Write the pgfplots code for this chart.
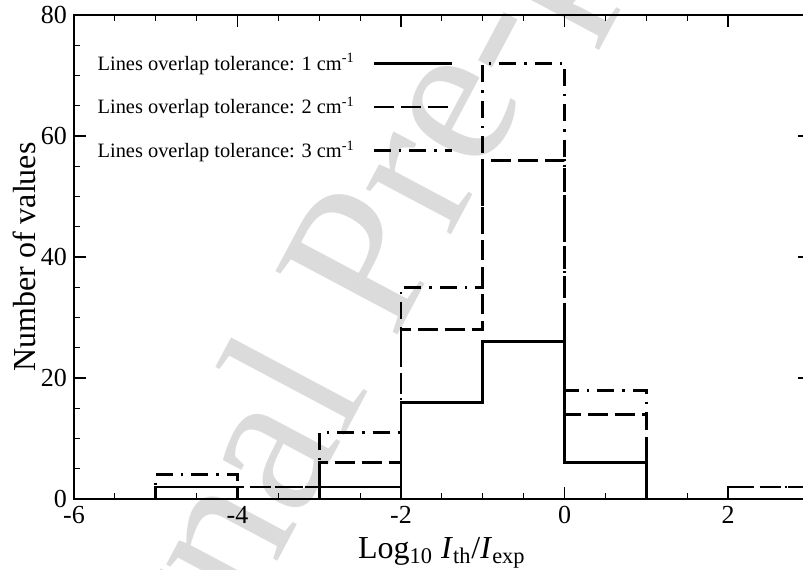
\documentclass[border=0pt]{standalone}
\usepackage{fontspec}
\setmainfont{Liberation Serif}
\usepackage{pgfplots}
\pgfplotsset{compat=1.18}
\begin{document}
\begin{tikzpicture}
\node[rotate=62, anchor=base, text=black!14, font=\fontsize{105}{105}\selectfont] at (176pt,108.5pt) {Journal Pre-proof};
\begin{axis}[
  at={(0pt,0pt)}, anchor=south west,
  scale only axis, width=367.9pt, height=242pt,
  xmin=-6, xmax=3, ymin=0, ymax=80,
  xtick={-6,-4,-2,0,2}, xticklabels={-6,-4,-2,0,2},
  ytick={0,20,40,60,80}, yticklabels={0,20,40,60,80},
  minor x tick num=3, minor y tick num=3,
  major tick length=6pt, minor tick length=3pt,
  tick style={black, line width=0.6pt},
  axis line style={line width=1.2pt},
  tick label style={font=\fontsize{13}{15}\selectfont},
  xlabel={Log\textsubscript{10} \textit{I}\textsubscript{th}/\textit{I}\textsubscript{exp}},
  ylabel={Number of values},
  label style={font=\fontsize{16}{18}\selectfont},
  xlabel style={at={(axis description cs:0.5,-0.112)}, anchor=center},
  ylabel style={at={(axis description cs:-0.068,0.5)}, anchor=center},
  legend style={draw=none, fill=none, at={(axis description cs:0.018,0.938)}, anchor=north west,
    font=\fontsize{10.2}{12}\selectfont, row sep=8pt, column sep=7pt},
  legend plot pos=right,
  legend cell align=left,
  legend image code/.code={\draw[#1] (0pt,0pt) -- (39pt,0pt);},
]
\addplot[const plot, black, line width=1.4pt] coordinates {
  (-6,0) (-5,2) (-4,0) (-3,2) (-2,16) (-1,26) (0,6) (1,0) (2,0) (3,0)};
\addlegendentry{Lines overlap tolerance: 1 cm\textsuperscript{-1}}
\addplot[const plot, black, line width=1.4pt, dash pattern=on 10pt off 3.5pt] coordinates {
  (-6,0) (-5,2) (-4,2) (-3,6) (-2,28) (-1,56) (0,14) (1,0) (2,2) (3,2)};
\addlegendentry{Lines overlap tolerance: 2 cm\textsuperscript{-1}}
\addplot[const plot, black, line width=1.4pt, dash pattern=on 8.5pt off 4pt on 1.2pt off 4pt] coordinates {
  (-6,0) (-5,4) (-4,2) (-3,11) (-2,35) (-1,72) (0,18) (1,0) (2,2) (3,2)};
\addlegendentry{Lines overlap tolerance: 3 cm\textsuperscript{-1}}
\end{axis}
\pgfresetboundingbox
\path[use as bounding box] (-37pt,-35pt) rectangle (364.5pt,249.5pt);
\end{tikzpicture}
\end{document}
